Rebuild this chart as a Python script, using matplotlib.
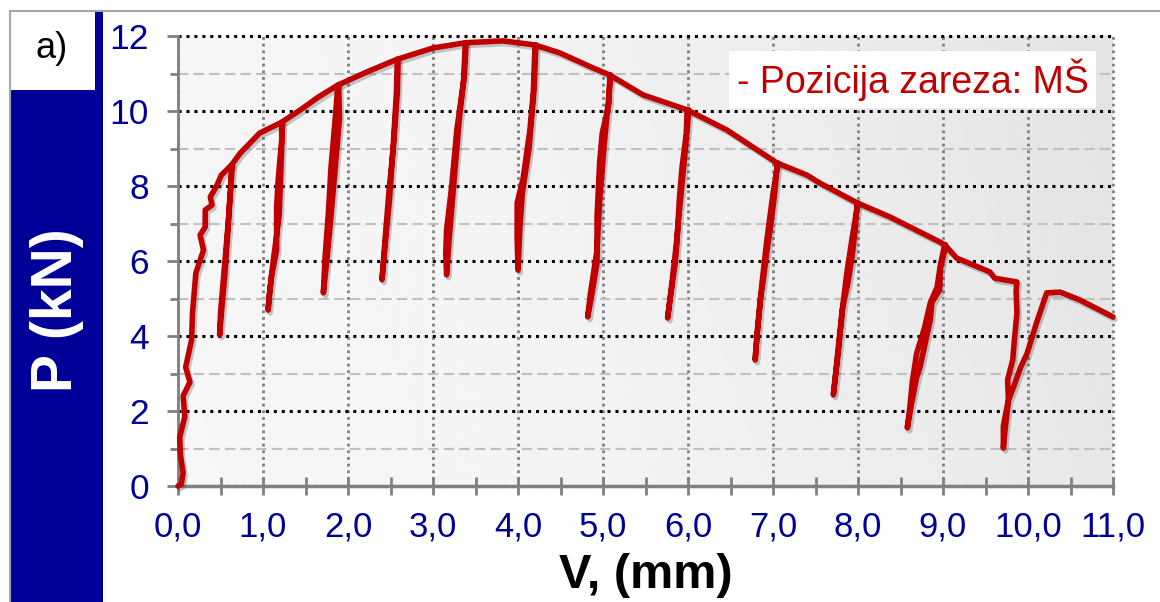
import numpy as np
import matplotlib
matplotlib.use("Agg")
import matplotlib.pyplot as plt
from matplotlib.patches import Rectangle
from matplotlib.lines import Line2D
from matplotlib.ticker import MultipleLocator, FuncFormatter
import matplotlib.patheffects as pe

plt.rcParams['font.family'] = ['Liberation Sans', 'DejaVu Sans']

# Envelope of the load-displacement curve (V in mm, P in kN), incl. final cycle
env_v = [0.00, 0.04, 0.06, 0.03, 0.02, 0.08, 0.06, 0.14, 0.09, 0.16, 0.17, 0.21,
         0.30, 0.26, 0.32, 0.32, 0.40, 0.38, 0.45, 0.51, 0.63, 0.73, 0.96, 1.22,
         1.44, 1.65, 1.88, 2.22, 2.58, 3.00, 3.38, 3.82, 4.00, 4.20, 4.49, 4.88,
         5.08, 5.47, 5.99, 6.46, 7.05, 7.40, 7.55, 7.99, 8.38, 8.96, 9.02, 9.16,
         9.55, 9.61, 9.87, 9.86, 9.87, 9.84, 9.82, 9.76, 9.77, 9.71, 9.71, 9.73,
         9.77, 9.84, 9.91, 9.99, 10.10, 10.22, 10.38, 10.61, 11.00]
env_p = [0.00, 0.05, 0.35, 0.80, 1.30, 1.85, 2.40, 2.77, 3.17, 3.90, 4.60, 5.68,
         6.29, 6.69, 6.91, 7.36, 7.49, 7.71, 7.98, 8.29, 8.56, 8.87, 9.41, 9.70,
         10.03, 10.37, 10.69, 11.04, 11.38, 11.68, 11.82, 11.87, 11.82, 11.76, 11.55, 11.15,
         10.96, 10.43, 10.03, 9.49, 8.61, 8.29, 8.08, 7.55, 7.17, 6.51, 6.43, 6.08,
         5.71, 5.54, 5.44, 5.20, 4.61, 3.90, 3.36, 2.83, 2.30, 1.60, 1.01, 1.50,
         2.29, 2.70, 3.15, 3.54, 4.35, 5.15, 5.17, 4.96, 4.51]

# Unloading / reloading cycles, each starting and ending on the envelope
cycle_v = [
    [0.63, 0.62, 0.59, 0.56, 0.53, 0.50, 0.49, 0.51, 0.55, 0.58, 0.61, 0.64],
    [1.22, 1.22, 1.18, 1.16, 1.16, 1.10, 1.07, 1.06, 1.08, 1.12, 1.19, 1.21, 1.23],
    [1.88, 1.85, 1.80, 1.77, 1.73, 1.71, 1.75, 1.80, 1.85, 1.90, 1.89],
    [2.58, 2.57, 2.53, 2.49, 2.44, 2.40, 2.43, 2.48, 2.54, 2.58, 2.59],
    [3.38, 3.36, 3.28, 3.22, 3.16, 3.15, 3.16, 3.19, 3.25, 3.31, 3.37, 3.39],
    [4.20, 4.18, 4.14, 4.06, 3.99, 3.99, 4.00, 4.02, 4.05, 4.13, 4.19, 4.21],
    [5.08, 5.07, 4.99, 4.96, 4.93, 4.93, 4.86, 4.82, 4.85, 4.93, 4.96, 5.01, 5.06, 5.09],
    [5.99, 5.98, 5.93, 5.90, 5.87, 5.85, 5.79, 5.76, 5.80, 5.86, 5.91, 5.97, 6.01],
    [7.05, 7.02, 6.97, 6.93, 6.88, 6.85, 6.81, 6.79, 6.82, 6.87, 6.93, 7.00, 7.06],
    [7.99, 7.97, 7.93, 7.88, 7.82, 7.77, 7.71, 7.75, 7.81, 7.87, 7.93, 8.00],
    [9.02, 8.97, 8.93, 8.85, 8.78, 8.69, 8.64, 8.61, 8.58, 8.63, 8.69, 8.73, 8.85,
     8.87, 8.96, 8.97, 9.02, 9.03],
]
cycle_p = [
    [8.56, 8.00, 7.00, 6.20, 5.41, 4.60, 4.03, 4.60, 5.60, 6.60, 7.60, 8.56],
    [9.70, 9.23, 8.20, 7.45, 6.29, 5.60, 5.00, 4.69, 5.20, 6.00, 7.20, 8.40, 9.70],
    [10.69, 9.80, 8.50, 7.30, 6.10, 5.15, 6.00, 7.20, 8.50, 9.80, 10.69],
    [11.38, 10.50, 9.00, 7.70, 6.50, 5.50, 6.40, 7.80, 9.20, 10.50, 11.38],
    [11.82, 10.80, 9.49, 8.00, 6.83, 6.20, 5.63, 6.60, 8.20, 9.80, 11.00, 11.82],
    [11.76, 10.50, 9.49, 8.20, 7.55, 6.60, 5.76, 6.80, 7.80, 9.00, 10.60, 11.76],
    [10.96, 10.20, 9.40, 8.61, 7.20, 5.95, 5.00, 4.51, 5.10, 6.30, 7.60, 9.00, 10.20, 10.96],
    [10.03, 9.40, 8.50, 7.70, 6.50, 5.95, 5.00, 4.48, 5.20, 6.40, 7.60, 9.00, 10.03],
    [8.61, 7.80, 6.90, 6.29, 5.40, 4.96, 4.00, 3.36, 4.20, 5.40, 6.60, 7.80, 8.61],
    [7.55, 6.90, 6.11, 5.40, 4.77, 3.60, 2.43, 3.30, 4.60, 5.70, 6.60, 7.55],
    [6.43, 5.90, 5.30, 4.88, 4.20, 3.54, 2.80, 2.10, 1.55, 2.20, 2.90, 3.17, 4.43,
     4.90, 5.23, 5.80, 6.29, 6.43],
]

curve_color = '#c00000'
navy = '#000099'
W, H = 1160, 602


def fx(x):
    return x / W


def fy(y):
    return 1 - y / H


fig = plt.figure(figsize=(W / 100, H / 100), dpi=100)
fig.patch.set_facecolor('white')

# Side panel: blue bar with the y-axis title and the "a)" tag
fig.patches.append(Rectangle((fx(11), 0), fx(92), fy(90), transform=fig.transFigure,
                             facecolor=navy, edgecolor='none', zorder=0))
fig.patches.append(Rectangle((fx(95), 0), fx(8), fy(11), transform=fig.transFigure,
                             facecolor=navy, edgecolor='none', zorder=0))
fig.lines.append(Line2D([fx(10), fx(10)], [0, fy(11)], transform=fig.transFigure,
                        color='#a6a6a6', lw=1.5))
fig.lines.append(Line2D([fx(10), 1], [fy(11), fy(11)], transform=fig.transFigure,
                        color='#a6a6a6', lw=1.5))
fig.text(fx(52), fy(49), 'a)', fontsize=26, color='black', ha='center', va='center')
fig.text(fx(57), fy(310), 'P (kN)', fontsize=41, fontweight='bold', color='white',
         rotation=90, ha='center', va='center')

ax = fig.add_axes([fx(178), fy(486), fx(935), (486 - 36) / H])
ax.set_xlim(0, 11)
ax.set_ylim(0, 12)

# Soft grey gradient in the plotting area
gx, gy = np.meshgrid(np.linspace(0, 1, 300), np.linspace(0, 1, 200))
shade = 0.965 - 0.058 * gx ** 2 - 0.02 * gx * gy
ax.imshow(shade, extent=[0, 11, 12, 0], aspect='auto', cmap='gray', vmin=0, vmax=1,
          interpolation='bicubic', zorder=0)
ax.set_ylim(0, 12)

ax.set_axisbelow(True)
ax.xaxis.set_major_locator(MultipleLocator(1))
ax.xaxis.set_minor_locator(MultipleLocator(0.5))
ax.yaxis.set_major_locator(MultipleLocator(2))
ax.yaxis.set_minor_locator(MultipleLocator(1))
ax.xaxis.set_major_formatter(FuncFormatter(lambda v, _: f"{v:.1f}".replace('.', ',')))
ax.yaxis.set_major_formatter(FuncFormatter(lambda v, _: f"{v:.0f}"))

ax.yaxis.grid(True, which='major', color='black', linestyle=(0, (1, 1.6)), lw=2.2)
ax.yaxis.grid(True, which='minor', color='#c0c0c0', linestyle=(0, (5, 2.5)), lw=1.5)
ax.xaxis.grid(True, which='major', color='#7f7f7f', linestyle=(0, (1, 1.4)), lw=2.0)
for gl in ax.get_ygridlines() + ax.get_xgridlines():
    gl.set_clip_on(False)

for side in ('top', 'right'):
    ax.spines[side].set_visible(False)
ax.spines['left'].set_color('#808080')
ax.spines['left'].set_linewidth(2)
ax.spines['bottom'].set_color('#808080')
ax.spines['bottom'].set_linewidth(2.5)

ax.tick_params(axis='y', which='major', direction='out', length=8, width=2,
               color='#808080', pad=13, labelsize=25.5, labelcolor=navy)
ax.tick_params(axis='y', which='minor', direction='out', length=6, width=2,
               color='#808080')
ax.tick_params(axis='x', which='both', direction='inout', length=13, width=2,
               color='#808080', pad=11, labelsize=25, labelcolor=navy)

fig.text(fx(645.5), fy(575), 'V, (mm)', fontsize=35, fontweight='bold', color='black',
         ha='center', va='center')

shadow = [pe.SimpleLineShadow(offset=(1.5, -2), shadow_color='#404040', alpha=0.28),
          pe.Normal()]
line_kw = dict(color=curve_color, lw=4.0, solid_capstyle='round',
               solid_joinstyle='round', zorder=3, clip_on=False, path_effects=shadow)
ax.plot(env_v, env_p, **line_kw)
for cv, cp in zip(cycle_v, cycle_p):
    ax.plot(cv, cp, **line_kw)

# Legend-style caption
ax.text(0.7855, 0.903, '- Pozicija zareza: MŠ', transform=ax.transAxes, fontsize=27,
        color=curve_color, ha='center', va='center', zorder=5,
        bbox=dict(boxstyle='square,pad=0.2', facecolor='white', edgecolor='none'))

fig.savefig('out.png', dpi=100)
